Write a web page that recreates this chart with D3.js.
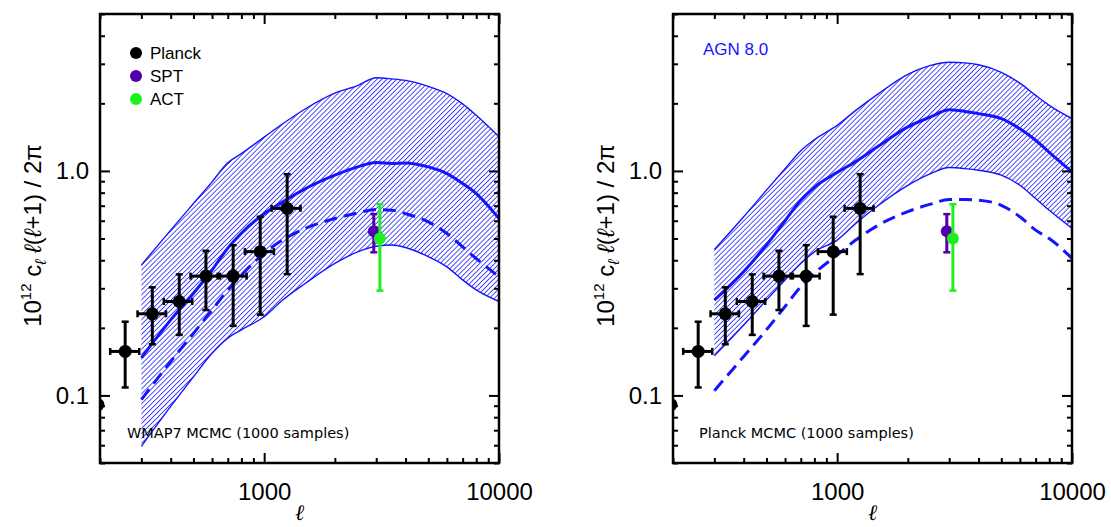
<!DOCTYPE html>
<html>
<head>
<meta charset="utf-8">
<title>tSZ power spectrum</title>
<style>
  body { margin: 0; background: #fff; }
  svg { display: block; }
  text { font-family: "Liberation Sans", Arial, sans-serif; fill: #000; }
</style>
</head>
<body>
<div id="chart"></div>
<script src="https://d3js.org/d3.v7.min.js"></script>
<script>

const ell = [300, 400, 500, 600, 700, 800, 1000, 1200, 1500, 2000, 2500, 3000, 3500, 4000, 5000, 6000, 7000, 8000, 10000];

// left panel: WMAP7 MCMC
const wmapUpper  = [0.381, 0.545, 0.716, 0.894, 1.086, 1.194, 1.415, 1.622, 1.892, 2.22, 2.40, 2.60, 2.57, 2.53, 2.38, 2.21, 1.99, 1.77, 1.42];
const wmapMedian = [0.147, 0.217, 0.285, 0.362, 0.453, 0.528, 0.645, 0.728, 0.834, 0.957, 1.042, 1.089, 1.079, 1.086, 1.042, 0.973, 0.879, 0.793, 0.614];
const wmapLower  = [0.0593, 0.0893, 0.121, 0.154, 0.180, 0.196, 0.224, 0.266, 0.316, 0.387, 0.436, 0.462, 0.468, 0.456, 0.415, 0.374, 0.327, 0.295, 0.262];
const wmapDashed = [0.0957, 0.1416, 0.189, 0.240, 0.295, 0.344, 0.430, 0.493, 0.555, 0.614, 0.650, 0.673, 0.668, 0.645, 0.593, 0.526, 0.459, 0.407, 0.338];

// right panel: Planck MCMC, AGN 8.0
const agnUpper  = [0.447, 0.625, 0.821, 1.023, 1.230, 1.377, 1.595, 1.861, 2.21, 2.69, 2.95, 3.05, 3.03, 2.97, 2.75, 2.46, 2.17, 1.96, 1.71];
const agnMedian = [0.266, 0.356, 0.468, 0.600, 0.740, 0.845, 0.985, 1.100, 1.290, 1.57, 1.74, 1.875, 1.84, 1.80, 1.71, 1.54, 1.37, 1.21, 0.99];
const agnLower  = [0.150, 0.206, 0.266, 0.327, 0.387, 0.436, 0.492, 0.583, 0.703, 0.863, 0.973, 1.035, 1.024, 1.007, 0.957, 0.863, 0.753, 0.668, 0.555];
const agnDashed = [0.105, 0.149, 0.196, 0.249, 0.305, 0.350, 0.422, 0.492, 0.574, 0.659, 0.711, 0.746, 0.746, 0.741, 0.703, 0.625, 0.545, 0.500, 0.408];

// Planck data points
const planckEll   = [196, 256, 334, 435, 565, 738, 962, 1253];
const planckVal   = [0.091, 0.157, 0.231, 0.262, 0.340, 0.340, 0.437, 0.681];
const planckLo    = [0.091, 0.1085, 0.169, 0.186, 0.240, 0.204, 0.229, 0.347];
const planckHi    = [0.091, 0.213, 0.303, 0.346, 0.441, 0.467, 0.625, 0.967];
const planckEllLo = [196, 221, 289, 374, 486, 634, 828, 1076];
const planckEllHi = [196, 294, 382, 494, 648, 842, 1100, 1429];

// SPT and ACT points
const sptEll = [2930], sptVal = [0.539], sptLo = [0.434], sptHi = [0.642];
const actEll = [3110], actVal = [0.500], actLo = [0.293], actHi = [0.711];

const legendNames = ["Planck", "SPT", "ACT"];

// axis ticks
const xMajor = [1000, 10000];
const xMinor = [200, 300, 400, 500, 600, 700, 800, 900, 2000, 3000, 4000, 5000, 6000, 7000, 8000, 9000];
const yMajor = [0.1, 1.0];
const yMinor = [0.05, 0.06, 0.07, 0.08, 0.09, 0.2, 0.3, 0.4, 0.5, 0.6, 0.7, 0.8, 0.9, 2, 3, 4, 5];

const BLUE = "#1414ff";
const SPT_COL = "#5200ae";
const ACT_COL = "#1ef01e";

const W = 1111, H = 527;
const svg = d3.select("#chart").append("svg").attr("width", W).attr("height", H);

const defs = svg.append("defs");
defs.append("pattern")
  .attr("id", "hatch")
  .attr("patternUnits", "userSpaceOnUse")
  .attr("width", 3.5).attr("height", 3.5)
  .attr("patternTransform", "rotate(45)")
  .append("line")
  .attr("x1", 0).attr("y1", -1).attr("x2", 0).attr("y2", 4.5)
  .attr("stroke", BLUE).attr("stroke-width", 1.5);

function drawPanel(id, left, upper, median, lower, dashed, opts) {
  const top = 14, width = 399, height = 449;
  const g = svg.append("g").attr("transform", `translate(${left},${top})`);

  const x = d3.scaleLog().domain([200, 10000]).range([0, width]);
  const y = d3.scaleLog().domain([0.05, 5]).range([height, 0]);

  defs.append("clipPath").attr("id", "clip" + id)
    .append("rect").attr("width", width).attr("height", height);

  const plot = g.append("g").attr("clip-path", `url(#clip${id})`);

  const rows = ell.map((l, i) => ({ l: l, up: upper[i], med: median[i], lo: lower[i], da: dashed[i] }));

  plot.append("path").datum(rows)
    .attr("fill", "url(#hatch)")
    .attr("d", d3.area().x(d => x(d.l)).y0(d => y(d.lo)).y1(d => y(d.up)).curve(d3.curveMonotoneX));

  const line = key => d3.line().x(d => x(d.l)).y(d => y(d[key])).curve(d3.curveMonotoneX);

  ["up", "lo"].forEach(k => {
    plot.append("path").datum(rows).attr("fill", "none")
      .attr("stroke", BLUE).attr("stroke-width", 1.4).attr("d", line(k));
  });
  plot.append("path").datum(rows).attr("fill", "none")
    .attr("stroke", BLUE).attr("stroke-width", 3).attr("d", line("med"));
  plot.append("path").datum(rows).attr("fill", "none")
    .attr("stroke", BLUE).attr("stroke-width", 3)
    .attr("stroke-dasharray", "13,7").attr("d", line("da"));

  // data points with error bars
  function points(ls, vs, los, his, llo, lhi, col, r) {
    ls.forEach((l, i) => {
      const cx = x(l), cy = y(vs[i]);
      if (his[i] > los[i]) {
        plot.append("line").attr("x1", cx).attr("x2", cx)
          .attr("y1", y(los[i])).attr("y2", y(his[i]))
          .attr("stroke", col).attr("stroke-width", 3);
        [los[i], his[i]].forEach(v => {
          plot.append("line").attr("x1", cx - 3.5).attr("x2", cx + 3.5)
            .attr("y1", y(v)).attr("y2", y(v))
            .attr("stroke", col).attr("stroke-width", 2.5);
        });
      }
      if (llo && lhi[i] > llo[i]) {
        plot.append("line").attr("x1", x(llo[i])).attr("x2", x(lhi[i]))
          .attr("y1", cy).attr("y2", cy)
          .attr("stroke", col).attr("stroke-width", 3);
        [llo[i], lhi[i]].forEach(v => {
          plot.append("line").attr("x1", x(v)).attr("x2", x(v))
            .attr("y1", cy - 3.5).attr("y2", cy + 3.5)
            .attr("stroke", col).attr("stroke-width", 2.5);
        });
      }
      plot.append("circle").attr("cx", cx).attr("cy", cy).attr("r", r).attr("fill", col);
    });
  }
  points(planckEll, planckVal, planckLo, planckHi, planckEllLo, planckEllHi, "#000", 6.5);
  points(sptEll, sptVal, sptLo, sptHi, null, null, SPT_COL, 6);
  points(actEll, actVal, actLo, actHi, null, null, ACT_COL, 6);

  // axes: ticks inside on all four sides
  const axes = [
    [d3.axisBottom, `translate(0,${height})`, x, xMajor, xMinor, true],
    [d3.axisTop, "translate(0,0)", x, xMajor, xMinor, false],
    [d3.axisLeft, "translate(0,0)", y, yMajor, yMinor, true],
    [d3.axisRight, `translate(${width},0)`, y, yMajor, yMinor, false]
  ];
  axes.forEach(([fn, tr, sc, major, minor, labels]) => {
    const isX = sc === x;
    const gm = g.append("g").attr("transform", tr)
      .call(fn(sc).tickValues(minor).tickSize(-5).tickFormat(""));
    const gM = g.append("g").attr("transform", tr)
      .call(fn(sc).tickValues(major).tickSize(-10)
        .tickPadding(isX ? 20 : 11)
        .tickFormat(labels ? (isX ? d3.format("d") : d3.format(".1f")) : ""));
    [gm, gM].forEach(a => {
      a.select(".domain").remove();
      a.selectAll("line").attr("stroke", "#000").attr("stroke-width", 2);
      a.selectAll("text").style("font-size", "24px").style("font-family", "'Liberation Sans', Arial, sans-serif").attr("fill", "#000");
    });
  });

  g.append("rect").attr("width", width).attr("height", height)
    .attr("fill", "none").attr("stroke", "#000").attr("stroke-width", 2.5);

  // axis titles
  g.append("text")
    .attr("x", width / 2).attr("y", 506)
    .attr("text-anchor", "middle")
    .style("font-size", "22px").style("font-style", "italic")
    .style("font-family", "'DejaVu Serif', serif")
    .text("ℓ");

  const yt = g.append("text")
    .attr("transform", `translate(-59,${height / 2 - 3}) rotate(-90)`)
    .attr("text-anchor", "middle")
    .style("font-size", "24px");
  yt.append("tspan").text("10");
  yt.append("tspan").attr("dy", -10).style("font-size", "15px").text("12");
  yt.append("tspan").attr("dy", 10).text("  c");
  yt.append("tspan").attr("dy", 5).style("font-size", "16px").style("font-style", "italic").text("ℓ");
  yt.append("tspan").attr("dy", -5).text("  ");
  yt.append("tspan").style("font-style", "italic").text("ℓ");
  yt.append("tspan").text("(");
  yt.append("tspan").style("font-style", "italic").text("ℓ");
  yt.append("tspan").text("+1) / 2π");

  g.append("text")
    .attr("x", opts.noteX).attr("y", 424)
    .style("font-size", "14.5px")
    .style("font-family", "'DejaVu Sans', sans-serif")
    .text(opts.note);

  return g;
}

const gL = drawPanel("L", 100, wmapUpper, wmapMedian, wmapLower, wmapDashed,
  { note: "WMAP7 MCMC (1000 samples)", noteX: 27 });
const gR = drawPanel("R", 673, agnUpper, agnMedian, agnLower, agnDashed,
  { note: "Planck MCMC (1000 samples)", noteX: 26 });

// legend in left panel
const legCols = ["#000", SPT_COL, ACT_COL];
legendNames.forEach((n, i) => {
  gL.append("circle").attr("cx", 36).attr("cy", 39 + i * 23).attr("r", 6).attr("fill", legCols[i]);
  gL.append("text").attr("x", 50).attr("y", 45 + i * 23)
    .style("font-size", "17px").text(n);
});

// model label in right panel
gR.append("text").attr("x", 30).attr("y", 41)
  .style("font-size", "17px").style("fill", BLUE)
  .text("AGN 8.0");

</script>
</body>
</html>
